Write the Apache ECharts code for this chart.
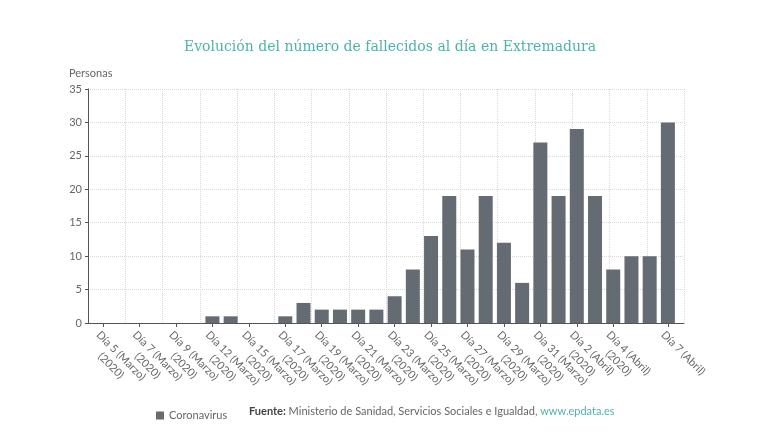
<!DOCTYPE html>
<html>
<head>
<meta charset="utf-8">
<script src="https://cdn.jsdelivr.net/npm/echarts@6/dist/echarts.min.js"></script>
<style>
  html, body { margin: 0; padding: 0; background: #fff; }
  #main { width: 780px; height: 440px; }
</style>
</head>
<body>
<div id="main"></div>
<script>
    // dias (una barra por fecha publicada)
    var categories = [
        'Día 5 (Marzo)\n(2020)', 'Día 6 (Marzo)\n(2020)', 'Día 7 (Marzo)\n(2020)', 'Día 8 (Marzo)\n(2020)',
        'Día 9 (Marzo)\n(2020)', 'Día 11 (Marzo)\n(2020)', 'Día 12 (Marzo)\n(2020)', 'Día 13 (Marzo)\n(2020)',
        'Día 15 (Marzo)\n(2020)', 'Día 16 (Marzo)\n(2020)', 'Día 17 (Marzo)\n(2020)', 'Día 18 (Marzo)\n(2020)',
        'Día 19 (Marzo)\n(2020)', 'Día 20 (Marzo)\n(2020)', 'Día 21 (Marzo)\n(2020)', 'Día 22 (Marzo)\n(2020)',
        'Día 23 (Marzo)\n(2020)', 'Día 24 (Marzo)\n(2020)', 'Día 25 (Marzo)\n(2020)', 'Día 26 (Marzo)\n(2020)',
        'Día 27 (Marzo)\n(2020)', 'Día 28 (Marzo)\n(2020)', 'Día 29 (Marzo)\n(2020)', 'Día 30 (Marzo)\n(2020)',
        'Día 31 (Marzo)\n(2020)', 'Día 1 (Abril)\n(2020)', 'Día 2 (Abril)\n(2020)', 'Día 3 (Abril)\n(2020)',
        'Día 4 (Abril)\n(2020)', 'Día 5 (Abril)\n(2020)', 'Día 6 (Abril)\n(2020)', 'Día 7 (Abril)'
    ];
    var fallecidos = [
        0, 0, 0, 0, 0, 0, 1, 1,
        0, 0, 1, 3, 2, 2, 2, 2,
        4, 8, 13, 19, 11, 19, 12, 6,
        27, 19, 29, 19, 8, 10, 10, 30
    ];
    // indices con etiqueta visible
    var shownLabels = [0, 2, 4, 6, 8, 10, 12, 14, 16, 18, 20, 22, 24, 26, 28, 31];
    var gridColumns = ['', '', '', '', '', '', '', '', '', '', '', '', '', '', '', ''];

    var fontFamily = 'Lato, "Open Sans", sans-serif';
    var textColor = '#666';
    var barColor = '#656b72';
    var teal = '#4db3aa';

    var chartDom = document.getElementById('main');
    var myChart = echarts.init(chartDom);

    function isShown(i) {
        return shownLabels.indexOf(i) >= 0;
    }

    var option = {
        animation: false,
        textStyle: { fontFamily: fontFamily },
        title: {
            text: 'Evolución del número de fallecidos al día en Extremadura',
            left: 'center',
            top: 35,
            textStyle: {
                fontFamily: '"DejaVu Serif", serif',
                fontWeight: 'normal',
                fontSize: 14,
                color: teal
            }
        },
        legend: {
            data: ['Coronavirus'],
            icon: 'rect',
            itemWidth: 8,
            itemHeight: 8,
            itemGap: 5,
            left: 151,
            top: 405,
            textStyle: { fontSize: 11, color: textColor, fontFamily: fontFamily }
        },
        graphic: [{
            type: 'text',
            left: 249,
            top: 406,
            style: {
                text: '{b|Fuente:} Ministerio de Sanidad, Servicios Sociales e Igualdad, {u|www.epdata.es}',
                font: '11px ' + fontFamily,
                fill: textColor,
                rich: {
                    b: { fontWeight: 'bold', fontSize: 11, fontFamily: fontFamily, fill: '#444' },
                    u: { fontSize: 11, fontFamily: fontFamily, fill: teal }
                }
            }
        }, {
            type: 'text',
            left: 69,
            top: 68,
            style: {
                text: 'Personas',
                font: '11px ' + fontFamily,
                fill: textColor
            }
        }],
        grid: [
            { left: 88, right: 96, top: 89, bottom: 117 },
            { left: 94, right: 103, top: 89, bottom: 117 }
        ],
        xAxis: [{
            type: 'category',
            gridIndex: 0,
            data: gridColumns,
            boundaryGap: true,
            axisLine: { lineStyle: { color: '#555', width: 1 } },
            axisTick: { show: false },
            axisLabel: { show: false },
            splitLine: {
                show: true,
                interval: 0,
                lineStyle: { color: '#d8d8d8', type: 'dotted' }
            }
        }, {
            type: 'category',
            gridIndex: 1,
            data: categories,
            axisLine: { show: false },
            axisTick: {
                show: true,
                alignWithLabel: true,
                length: 4,
                interval: function (i) { return isShown(i); },
                lineStyle: { color: '#555' }
            },
            axisLabel: {
                interval: 0,
                hideOverlap: false,
                rotate: -45,
                margin: 5,
                align: 'left',
                verticalAlign: 'top',
                fontSize: 11,
                color: textColor,
                lineHeight: 14,
                formatter: function (value, index) {
                    if (!isShown(index)) {
                        return '';
                    }
                    var parts = value.split('\n');
                    if (parts.length < 2) {
                        return '{a|' + parts[0] + '}';
                    }
                    return '{a|' + parts[0] + '}\n{b|' + parts[1] + '}';
                },
                rich: {
                    a: { fontSize: 11, color: textColor, lineHeight: 14 },
                    b: { fontSize: 11, color: textColor, lineHeight: 14, align: 'center' }
                }
            }
        }],
        yAxis: [{
            type: 'value',
            gridIndex: 0,
            min: 0,
            max: 35,
            interval: 5,
            axisLine: { show: true, lineStyle: { color: '#555', width: 1 } },
            axisTick: { show: true, length: 3, lineStyle: { color: '#555' } },
            axisLabel: { fontSize: 11, color: textColor, margin: 6 },
            splitLine: { lineStyle: { color: '#d8d8d8', type: 'dotted' } }
        }, {
            type: 'value',
            gridIndex: 1,
            min: 0,
            max: 35,
            interval: 5,
            show: false,
            splitLine: { show: false }
        }],
        series: [{
            name: 'Coronavirus',
            type: 'bar',
            xAxisIndex: 1,
            yAxisIndex: 1,
            data: fallecidos,
            barWidth: 14,
            itemStyle: { color: barColor }
        }]
    };

    myChart.setOption(option);
</script>
</body>
</html>
